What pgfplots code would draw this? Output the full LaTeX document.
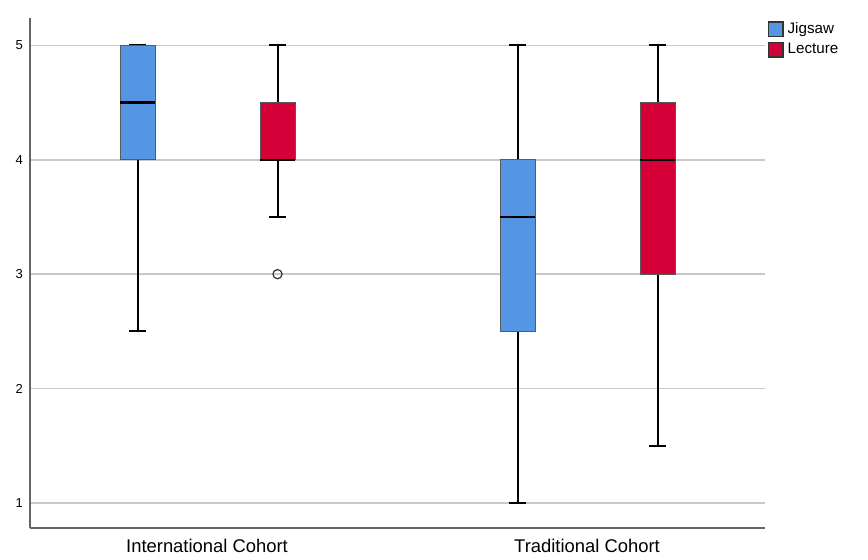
\documentclass[border=0pt]{standalone}
\usepackage{pgfplots}
\pgfplotsset{compat=1.18}
\usepgfplotslibrary{statistics}
\usepackage{fontspec}
\setmainfont{Liberation Sans}
\definecolor{jig}{RGB}{85,150,228}
\definecolor{lec}{RGB}{212,0,55}
\definecolor{gridc}{RGB}{200,200,200}
\begin{document}
\begin{tikzpicture}[x=0.5pt,y=0.5pt]
\begin{axis}[
  scale only axis,
  width=367.5pt, height=255pt,
  xmin=0, xmax=735,
  ymin=0.78, ymax=5.24,
  axis x line*=bottom, axis y line*=left,
  axis line style={draw=gray!80!black, line width=0.8pt},
  ytick={1,2,3,4,5},
  yticklabel style={font=\fontsize{6.5}{7}\selectfont},
  /pgf/number format/assume math mode=true,
  ymajorgrids, grid style={gridc, line width=0.8pt},
  major tick length=0pt,
  xtick={177,557},
  xticklabels={International Cohort, Traditional Cohort},
  xticklabel style={font=\fontsize{9.2}{10}\selectfont, yshift=-2pt},
  boxplot/draw direction=y,
  boxplot/box extend=35,
  boxplot/whisker extend=17,
  legend style={at={(1.003,1.0)}, anchor=north west, draw=none, fill=none,
     font=\fontsize{7.6}{8}\selectfont, row sep=-0.8pt, inner sep=0pt,
     /tikz/every even column/.append style={column sep=2pt}},
  legend cell align=left,
  clip=false,
]
\addlegendimage{legend image code/.code={\draw[fill=jig, draw=black!80, line width=0.6pt] (0pt,-3.7pt) rectangle (7.4pt,3.7pt);}}
\addlegendentry{Jigsaw}
\addlegendimage{legend image code/.code={\draw[fill=lec, draw=black!80, line width=0.6pt] (0pt,-3.7pt) rectangle (7.4pt,3.7pt);}}
\addlegendentry{Lecture}

\addplot+[boxplot prepared={draw position=107.5, lower whisker=2.5, lower quartile=4, median=4.5, upper quartile=5, upper whisker=5, every median/.style={line width=1.2pt, draw=black}, every whisker/.style={line width=1pt, draw=black}},
  fill=jig, draw=gray!70!black, line width=0.5pt, mark=none, forget plot] coordinates {};
\addplot+[boxplot prepared={draw position=247.5, lower whisker=3.5, lower quartile=4, median=4, upper quartile=4.5, upper whisker=5, every median/.style={line width=1.2pt, draw=black}, every whisker/.style={line width=1pt, draw=black}},
  fill=lec, draw=gray!70!black, line width=0.5pt, mark=o, mark size=2.3pt, mark options={draw=black!80, fill=white, line width=0.6pt}, forget plot] coordinates {(0,3)};
\addplot+[boxplot prepared={draw position=487.5, lower whisker=1, lower quartile=2.5, median=3.5, upper quartile=4, upper whisker=5, every median/.style={line width=1.2pt, draw=black}, every whisker/.style={line width=1pt, draw=black}},
  fill=jig, draw=gray!70!black, line width=0.5pt, mark=none, forget plot] coordinates {};
\addplot+[boxplot prepared={draw position=627.5, lower whisker=1.5, lower quartile=3, median=4, upper quartile=4.5, upper whisker=5, every median/.style={line width=1.2pt, draw=black}, every whisker/.style={line width=1pt, draw=black}},
  fill=lec, draw=gray!70!black, line width=0.5pt, mark=none, forget plot] coordinates {};
\end{axis}
\path[use as bounding box] (current axis.south west) ++(-30,-32) rectangle ++(868,560);
\end{tikzpicture}
\end{document}
